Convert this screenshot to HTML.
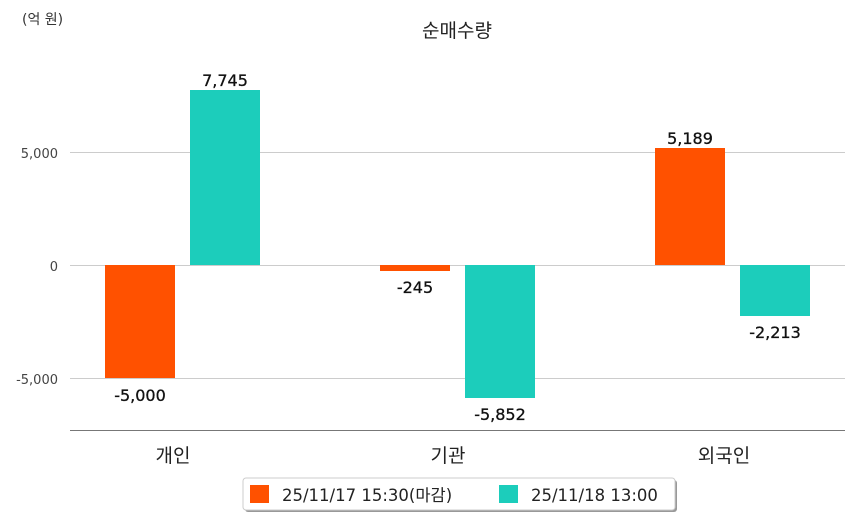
<!DOCTYPE html>
<html><head><meta charset="utf-8"><style>
body{margin:0;background:#fff;}
svg{display:block;font-family:"DejaVu Sans","Noto Sans CJK KR",sans-serif;}
</style></head><body>
<svg width="854" height="520" viewBox="0 0 854 520">
<text x="22" y="24" font-size="14" fill="#333">(억 원)</text>
<text x="457" y="37" font-size="19" text-anchor="middle" fill="#222">순매수량</text>
<g stroke="#ccc" stroke-width="1">
<line x1="70" y1="152.5" x2="845" y2="152.5"/>
<line x1="70" y1="265.5" x2="845" y2="265.5"/>
<line x1="70" y1="378.5" x2="845" y2="378.5"/>
</g>
<line x1="70" y1="430.5" x2="845" y2="430.5" stroke="#777"/>
<g font-size="13" fill="#444" text-anchor="end">
<text x="58" y="158">5,000</text>
<text x="58" y="271">0</text>
<text x="58" y="384">-5,000</text>
</g>
<rect x="105" y="265" width="70" height="113" fill="#ff5100"/>
<rect x="190" y="90" width="70" height="175" fill="#1ccdbb"/>
<rect x="380" y="265" width="70" height="6" fill="#ff5100"/>
<rect x="465" y="265" width="70" height="133" fill="#1ccdbb"/>
<rect x="655" y="148" width="70" height="117" fill="#ff5100"/>
<rect x="740" y="265" width="70" height="51" fill="#1ccdbb"/>
<g font-size="16" fill="#111" text-anchor="middle" stroke="#111" stroke-width="0.3">
<text x="140" y="401">-5,000</text>
<text x="225" y="86">7,745</text>
<text x="415" y="293">-245</text>
<text x="500" y="420">-5,852</text>
<text x="690" y="144">5,189</text>
<text x="775" y="338">-2,213</text>
</g>
<g font-size="19" fill="#222" text-anchor="middle">
<text x="173" y="462">개인</text>
<text x="448" y="462">기관</text>
<text x="724" y="462">외국인</text>
</g>
<rect x="245" y="480" width="432" height="32" rx="3" fill="#999"/>
<rect x="243" y="478" width="432" height="32" rx="3" fill="#fff" stroke="#ccc"/>
<rect x="250" y="485" width="19" height="18" fill="#ff5100"/>
<text x="282" y="501" font-size="16.5" fill="#222">25/11/17 15:30(마감)</text>
<rect x="499" y="485" width="19" height="18" fill="#1ccdbb"/>
<text x="531" y="501" font-size="16.5" fill="#222">25/11/18 13:00</text>
</svg>
</body></html>
